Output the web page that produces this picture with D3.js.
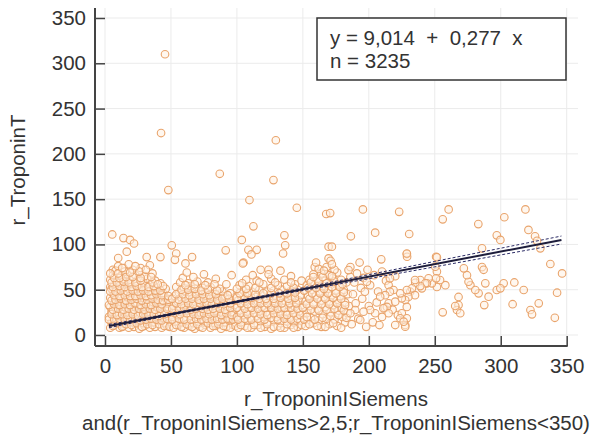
<!DOCTYPE html>
<html>
<head>
<meta charset="utf-8">
<script src="https://cdn.jsdelivr.net/npm/d3@7"></script>
<style>
  html, body { margin: 0; padding: 0; background: #fff; }
  svg { display: block; font-family: "Liberation Sans", Arial, sans-serif; }
  .tick text { font-size: 20.5px; fill: #333; }
</style>
</head>
<body>
<svg id="chart" width="601" height="438"></svg>
<script>
// regression shown in the box
const intercept = 9.014;
const slope = 0.277;
const nObs = 3235;

const xTicks = [0, 50, 100, 150, 200, 250, 300, 350];
const yTicks = [0, 50, 100, 150, 200, 250, 300, 350];

// confidence band half-width
const ciX = [3, 40, 80, 120, 160, 200, 250, 300, 346];
const ciHalf = [1.8, 1.1, 0.9, 1.1, 1.6, 2.2, 3.0, 3.7, 4.4];

// isolated high values
const outliers = [
  [45.5, 310], [42.5, 223], [129.5, 215], [87, 178], [127.7, 171], [48, 160],
  [109.5, 149], [145.4, 140.5], [167.7, 133.6], [170.7, 134.6], [112.5, 120],
  [5.5, 111], [14, 107], [19, 105], [22, 101], [50.6, 99], [103.7, 105], [136, 110],
  [136.6, 99], [135, 90], [91.5, 93.5], [108.7, 94], [115, 94], [111, 89],
  [169.5, 97.5], [172, 97.5], [16.5, 92], [31.6, 86], [42, 86], [54, 90], [66, 86],
  [10, 85], [53, 83], [105, 80], [104.5, 79], [34, 77], [61, 79], [6, 72], [14, 74],
  [124, 72], [159, 75], [169.5, 84.6], [4, 53]
];

// main cluster, x < 100
const clusterLow = [
  [4,8],[7,11],[11,8],[14,10],[18,8],[22,9],[26,7],[30,10],[34,8],[38,9],[43,8],[47,10],
  [5,14],[9,16],[13,13],[17,15],[21,14],[25,16],[29,13],[33,15],[37,14],[41,16],[45,13],[49,15],
  [3,20],[7,19],[11,22],[15,20],[19,19],[23,22],[27,20],[31,19],[35,22],[39,20],[43,19],[48,21],
  [5,26],[9,24],[13,27],[17,25],[21,26],[25,24],[29,27],[33,25],[37,26],[41,24],[46,27],[50,25],
  [4,31],[8,30],[12,32],[16,30],[20,31],[24,33],[28,30],[32,32],[36,31],[40,30],[44,33],[48,31],
  [6,36],[10,35],[14,37],[18,36],[22,35],[26,38],[30,36],[34,35],[38,37],[42,36],[47,35],
  [4,41],[9,40],[13,42],[17,41],[21,40],[25,43],[29,41],[33,40],[37,42],[41,41],[45,43],[50,40],
  [6,46],[10,45],[15,47],[19,46],[23,45],[27,48],[31,46],[36,45],[40,47],[44,46],
  [5,51],[9,50],[13,52],[18,51],[22,50],[26,53],[31,51],[35,50],[39,52],[46,51],
  [7,56],[11,55],[16,57],[20,56],[25,55],[29,58],[34,56],[42,57],
  [4,61],[9,60],[14,62],[19,61],[24,60],[32,62],[38,60],
  [6,66],[12,65],[17,67],[23,66],[30,65],
  [8,71],[15,70],[21,72],[36,68],
  [10,76],[18,78],[27,74],
  [6,10],[10,13],[13,9],[16,12],[20,11],[24,13],[28,9],[32,12],[36,11],[41,12],[45,10],[49,9],
  [3,17],[7,17],[11,18],[15,17],[19,17],[23,18],[27,16],[31,17],[35,18],[39,17],[43,16],[47,18],
  [5,23],[9,22],[13,23],[17,22],[21,23],[25,21],[29,23],[33,22],[37,23],[41,21],[45,23],[50,22],
  [6,28],[10,29],[14,28],[18,29],[22,28],[26,29],[30,28],[34,29],[38,28],[42,29],[47,29],
  [3,33],[7,34],[11,33],[15,34],[19,33],[23,35],[27,33],[31,34],[35,33],[39,35],[43,34],
  [5,38],[8,39],[12,40],[16,38],[20,39],[24,40],[28,38],[32,39],[36,40],[40,39],[44,38],[48,39],
  [7,44],[11,43],[15,44],[19,43],[23,43],[27,44],[31,43],[35,44],[39,45],[43,44],[48,43],
  [4,48],[8,48],[12,49],[17,48],[21,49],[25,48],[29,49],[33,48],[38,49],[42,49],
  [6,53],[11,54],[15,53],[20,53],[24,54],[28,53],[33,53],[37,54],[44,54],
  [5,58],[9,58],[14,59],[18,58],[23,58],[27,60],[36,58],[40,56],
  [7,63],[11,63],[16,64],[21,64],[27,63],[35,64],
  [4,68],[10,68],[19,69],[26,70],
  [13,74],[23,76],[31,72],
  [52,8],[56,11],[60,8],[64,10],[68,7],[72,9],[76,11],[80,8],[84,10],[88,7],[92,9],[97,11],
  [53,15],[58,14],[62,16],[67,13],[71,15],[75,14],[79,16],[83,13],[87,15],[91,14],[95,16],[99,13],
  [51,20],[55,22],[60,19],[65,21],[69,20],[73,22],[78,19],[82,21],[86,20],[90,22],[94,19],[98,21],
  [54,27],[58,25],[63,27],[67,26],[72,24],[76,27],[80,25],[85,26],[89,24],[93,27],[97,25],
  [52,32],[57,31],[61,33],[66,30],[70,32],[75,31],[79,33],[84,30],[88,32],[93,31],[98,33],
  [55,37],[60,36],[64,38],[69,36],[73,38],[78,37],[83,36],[87,38],[92,36],[96,38],
  [53,43],[58,41],[63,43],[68,42],[72,41],[77,43],[82,42],[86,41],[91,43],[99,42],
  [56,47],[61,48],[66,46],[71,48],[76,47],[81,46],[89,48],[95,46],
  [54,53],[60,52],[65,54],[74,52],[80,53],[87,51],
  [57,58],[63,57],[70,59],[78,58],[92,56],
  [59,63],[67,64],[84,62],
  [62,69],[75,67],[96,66],
  [54,11],[58,9],[62,12],[66,9],[70,12],[74,8],[78,13],[82,10],[86,12],[90,10],[95,8],[99,10],
  [51,17],[56,18],[60,17],[65,17],[69,18],[73,17],[77,18],[81,17],[85,18],[89,17],[93,18],[97,17],
  [53,24],[57,23],[62,24],[67,23],[71,22],[75,24],[79,23],[83,24],[88,22],[92,24],[96,22],
  [51,29],[56,29],[60,30],[65,28],[69,29],[74,29],[78,28],[82,29],[87,29],[91,28],[95,30],
  [54,35],[58,34],[63,35],[67,34],[72,35],[77,35],[81,34],[86,35],[90,34],[95,35],
  [51,40],[56,39],[61,40],[66,40],[71,39],[75,40],[80,40],[85,39],[89,40],[94,40],
  [54,45],[59,45],[64,44],[69,45],[74,45],[79,44],[84,45],[93,44],
  [58,50],[63,50],[68,51],[73,49],[78,50],[85,49],
  [61,55],[68,56],[76,55],[83,56]
];

// cluster, 100 <= x < 225
const clusterMid = [
  [101,8],[106,10],[111,8],[116,11],[121,9],[126,7],[131,10],[136,8],[141,11],[146,9],
  [103,14],[108,16],[113,13],[118,15],[123,14],[128,16],[133,13],[138,15],[143,14],[148,16],
  [100,20],[105,22],[110,19],[115,21],[120,20],[125,23],[130,20],[135,22],[140,19],[145,21],[150,23],
  [102,27],[107,25],[112,28],[117,26],[122,25],[127,28],[132,26],[137,25],[142,28],[147,26],
  [104,32],[109,31],[114,33],[119,31],[124,33],[129,32],[134,30],[139,33],[144,31],[149,33],
  [101,38],[106,37],[111,39],[116,37],[121,38],[127,37],[132,39],[137,37],[142,39],[147,38],
  [103,43],[108,44],[114,42],[119,44],[125,43],[130,42],[136,44],[141,43],[148,44],
  [105,49],[111,48],[117,50],[123,48],[128,49],[134,50],[140,48],[146,50],
  [102,55],[109,54],[120,56],[131,55],[138,54],[144,56],
  [107,61],[115,60],[126,62],[136,61],[149,60],
  [112,66],[124,67],[141,65],
  [118,72],[133,71],
  [103,11],[108,8],[113,11],[118,8],[123,12],[128,9],[133,8],[138,12],[143,8],[149,11],
  [101,17],[106,18],[111,17],[116,18],[121,17],[126,19],[131,17],[136,18],[141,17],[146,18],
  [103,24],[108,23],[113,24],[118,23],[123,22],[128,24],[133,23],[138,22],[143,24],[148,22],
  [100,30],[106,29],[111,30],[116,29],[121,30],[126,30],[131,29],[136,30],[141,30],[146,29],
  [103,35],[108,34],[113,35],[118,35],[123,35],[129,35],[134,35],[140,35],[145,35],
  [100,41],[106,40],[111,41],[117,40],[122,40],[128,40],[133,41],[139,40],[144,41],
  [102,46],[108,46],[114,45],[120,46],[126,46],[132,46],[138,46],[144,47],
  [100,51],[107,51],[114,52],[126,52],[143,52],
  [104,57],[117,58],[129,58],[141,58],
  [152,10],[158,13],[164,9],[170,12],[176,10],[182,14],
  [151,17],[156,19],[162,16],[168,18],[174,17],[180,20],
  [153,24],[159,26],[165,23],[171,25],[177,27],[184,24],
  [150,30],[155,32],[161,29],[167,31],[173,33],[179,30],[185,32],
  [152,37],[158,36],[164,38],[170,37],[176,39],[182,36],
  [154,43],[160,44],[166,42],[172,44],[178,43],[184,45],
  [151,49],[157,50],[163,48],[169,51],[175,49],[181,50],
  [153,55],[159,56],[165,54],[171,57],[177,55],[183,58],
  [155,61],[161,62],[167,60],[173,63],[179,61],
  [158,67],[164,68],[170,66],[176,69],
  [162,73],[168,75],[174,72],
  [160,80],[171,82],
  [155,12],[161,10],[167,9],[173,13],[179,8],
  [153,20],[159,17],[165,19],[171,21],[177,22],[183,19],
  [156,28],[162,27],[168,28],[174,29],[181,27],
  [153,34],[158,34],[164,34],[170,34],[176,35],[182,33],
  [155,40],[161,40],[167,40],[173,41],[179,40],
  [157,46],[163,46],[169,46],[175,46],[181,47],
  [154,52],[160,52],[166,51],[172,53],[178,53],
  [156,58],[162,59],[168,57],[174,59],[180,56],
  [158,64],[165,64],[172,65],
  [166,71],[172,78],
  [187,12],[192,18],[198,9],[203,14],[208,11],[190,35],[195,40],[200,32],[206,36],[212,30],
  [188,45],[194,52],[201,55],[207,48],[213,60],[189,58],[196,63],[204,66],[210,70],[186,75],
  [193,80],[199,72],[218,28],[222,22],[215,55],[220,65],[186,64]
];

// scattered points to the right
const spread = [
  [195.5,138.7],[223,136],[260.5,138.7],[256,127.7],[283,122.5],[302.7,130],[318.7,138.7],
  [186.4,109],[204.8,113],[230.6,111.5],[297,110],[299.7,105],[321,116],[326,109],[327.5,104],
  [330,95.7],[285.8,95.7],[209.4,83.5],[228.8,89.4],[229,86.4],[251,86.4],[251.6,85.8],[228.8,90],
  [337.6,78.4],[346.5,68],[342.7,46.7],[341,19],[322.5,27.6],[323.7,22.8],[328.8,35],[317.4,49.7],
  [309,34],[310.3,58],[302.2,57],[297,49.7],[299.7,51.5],[288.3,57],[290.8,42.3],[287.5,33],
  [283.2,46],[277,55],[280.7,49.7],[275.6,58.8],[285.8,75],[287,72],[274.4,66],[272,73.6],
  [268,42],[268,33],[266.8,27.6],[269.3,24],[265.5,32],[256,25],[258,55],[251.6,53],[247.8,57],
  [254,60.7],[251.6,70],[251,62.6],[250.4,75.4],[245.3,62.6],[244,57],[239,60.7],[242.8,57],
  [240.2,51.5],[239,54],[235.2,57.7],[231.4,47.8],[235,44],[230,42],[227.6,38.6],[225,40.5],
  [232.7,51.5],[228.8,49.7],[235,60.7],[223.8,46],[228.8,31],[225,24],[228.8,18.4],[223.8,18.4],
  [220,11],[227.6,11],[227.6,9.2],[226.4,14.7],[215,35],[220,36.8],[218.7,49.7],[216,47.8],
  [212.4,44],[213.7,31],[215,24],[208.6,42.3],[211,29.5],[210,20],[204.8,24],[201,27.6],
  [196,25.7],[193.5,16.6],[189.7,27.6],[186,24],[197,47.8],[198.5,58.8],[191,68],[184.6,71.7],
  [216,62.6]
];

const svg = d3.select('#chart');

const x = d3.scaleLinear().domain([0, 350]).range([105, 566.7]);
const y = d3.scaleLinear().domain([0, 350]).range([335, 18]);

const frameLeft = 95, frameRight = 578, frameTop = 8, frameBottom = 346;

// grid
const grid = svg.append('g').attr('class', 'grid')
  .attr('stroke', '#ebebeb').attr('stroke-width', 1);
grid.selectAll('line.gx').data(xTicks).join('line')
  .attr('class', 'gx')
  .attr('x1', d => x(d)).attr('x2', d => x(d))
  .attr('y1', frameTop).attr('y2', frameBottom);
grid.selectAll('line.gy').data(yTicks).join('line')
  .attr('class', 'gy')
  .attr('x1', frameLeft).attr('x2', frameRight)
  .attr('y1', d => y(d)).attr('y2', d => y(d));

// points
const allPoints = outliers.concat(clusterLow, clusterMid, spread);
svg.append('g').attr('class', 'points')
  .selectAll('circle').data(allPoints).join('circle')
  .attr('cx', d => x(d[0]))
  .attr('cy', d => y(d[1]))
  .attr('r', 3.8)
  .attr('fill', 'rgba(255,240,225,0.55)')
  .attr('stroke', '#e9a46c')
  .attr('stroke-width', 1.1);

// regression line + confidence band
const fit = v => intercept + slope * v;
const band = ciX.map((v, i) => ({ x: v, lo: fit(v) - ciHalf[i], hi: fit(v) + ciHalf[i] }));
const bandLine = key => d3.line().x(d => x(d.x)).y(d => y(d[key])).curve(d3.curveMonotoneX);

svg.append('path').datum(band)
  .attr('d', bandLine('hi'))
  .attr('fill', 'none').attr('stroke', '#2c2c66').attr('stroke-width', 1)
  .attr('stroke-dasharray', '3,2');
svg.append('path').datum(band)
  .attr('d', bandLine('lo'))
  .attr('fill', 'none').attr('stroke', '#2c2c66').attr('stroke-width', 1)
  .attr('stroke-dasharray', '3,2');

const xExtent = [ciX[0], ciX[ciX.length - 1]];
svg.append('line')
  .attr('x1', x(xExtent[0])).attr('y1', y(fit(xExtent[0])))
  .attr('x2', x(xExtent[1])).attr('y2', y(fit(xExtent[1])))
  .attr('stroke', '#1e1e3c').attr('stroke-width', 2);

// axes
const yAxis = d3.axisLeft(y).tickValues(yTicks).tickSize(-10).tickPadding(9).tickSizeOuter(0);
const gy = svg.append('g').attr('transform', `translate(${frameLeft},0)`).call(yAxis);
gy.select('.domain').remove();
gy.selectAll('.tick line').attr('stroke', '#444').attr('stroke-width', 1.5);

const xAxis = d3.axisBottom(x).tickValues(xTicks).tickSize(-10).tickPadding(12).tickSizeOuter(0);
const gx = svg.append('g').attr('transform', `translate(0,${frameBottom})`).call(xAxis);
gx.select('.domain').remove();
gx.selectAll('.tick line').attr('stroke', '#444').attr('stroke-width', 1.5);

svg.append('line')
  .attr('x1', frameLeft).attr('x2', frameLeft)
  .attr('y1', frameTop).attr('y2', frameBottom)
  .attr('stroke', '#444').attr('stroke-width', 2);
svg.append('line')
  .attr('x1', frameLeft).attr('x2', x(350) + 1)
  .attr('y1', frameBottom).attr('y2', frameBottom)
  .attr('stroke', '#444').attr('stroke-width', 2);

// axis titles
svg.append('text')
  .attr('x', 336).attr('y', 406)
  .attr('text-anchor', 'middle')
  .attr('font-size', 20.5).attr('fill', '#333')
  .text('r_TroponinISiemens');
svg.append('text')
  .attr('x', 336).attr('y', 430)
  .attr('text-anchor', 'middle')
  .attr('font-size', 20.5).attr('fill', '#333')
  .text('and(r_TroponinISiemens>2,5;r_TroponinISiemens<350)');
svg.append('text')
  .attr('transform', 'translate(25,170) rotate(-90)')
  .attr('text-anchor', 'middle')
  .attr('font-size', 20.5).attr('fill', '#333')
  .text('r_TroponinT');

// equation box
const box = svg.append('g');
box.append('rect')
  .attr('x', 317).attr('y', 18).attr('width', 249).attr('height', 62)
  .attr('fill', '#fff').attr('stroke', '#333').attr('stroke-width', 1.5);
box.append('text')
  .attr('x', 330).attr('y', 44.5)
  .attr('font-size', 20.5).attr('fill', '#333')
  .style('white-space', 'pre')
  .text(`y = ${String(intercept).replace('.', ',')}  +  ${String(slope).replace('.', ',')}  x`);
box.append('text')
  .attr('x', 330).attr('y', 67.5)
  .attr('font-size', 20.5).attr('fill', '#333')
  .text(`n = ${nObs}`);
</script>
</body>
</html>
